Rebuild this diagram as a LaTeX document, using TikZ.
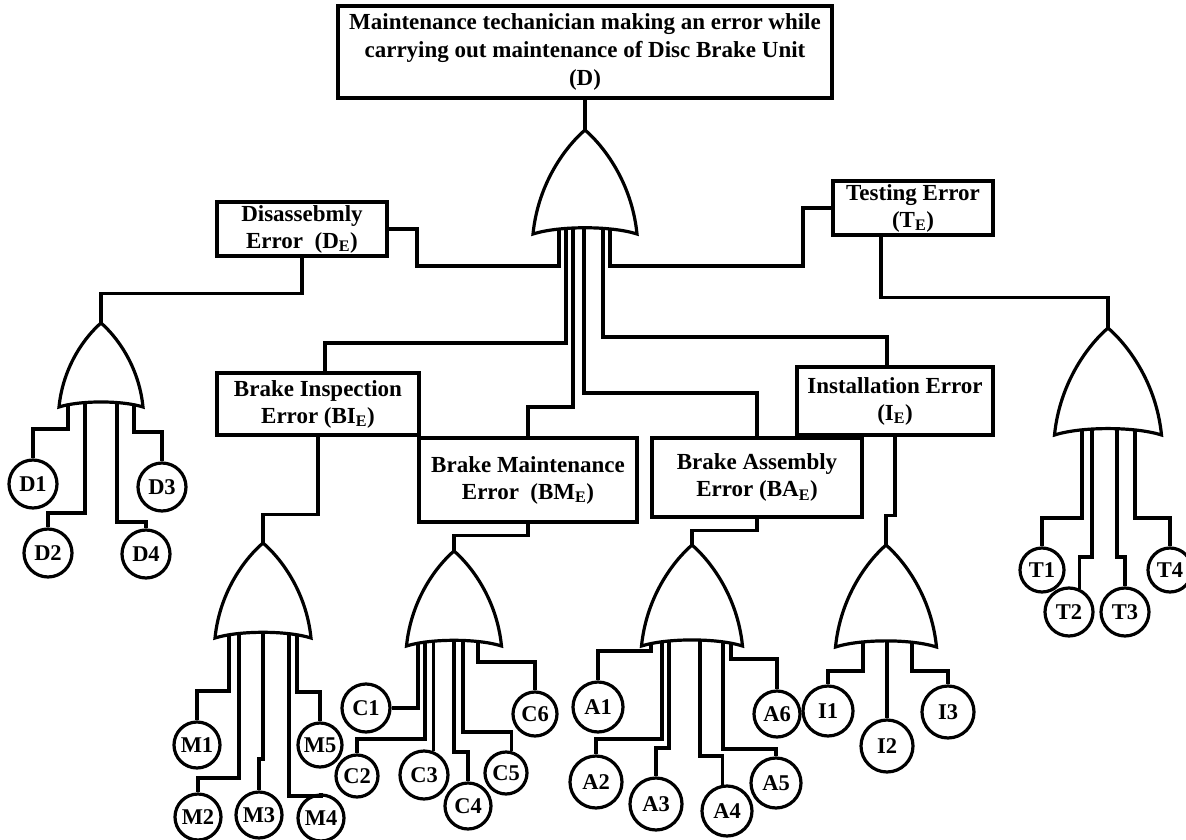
\documentclass[tikz,border=0pt]{standalone}
\usepackage{fontspec}
\setmainfont{Liberation Serif}
\usetikzlibrary{calc}
\newcommand\orgatedraw[4]{% apex x, apex y, width, height
  \draw[gate] ({#1-#3/2},{#2+#4}) .. controls ({#1-0.45*#3},{#2+0.5*#4}) and ({#1-0.175*#3},{#2+0.15*#4}) .. (#1,#2)
    .. controls ({#1+0.175*#3},{#2+0.15*#4}) and ({#1+0.45*#3},{#2+0.5*#4}) .. ({#1+#3/2},{#2+#4})
    .. controls ({#1+0.25*#3},{#2+0.92*#4}) and ({#1-0.25*#3},{#2+0.92*#4}) .. ({#1-#3/2},{#2+#4}) -- cycle;
}
\begin{document}
\begin{tikzpicture}[x=1pt,y=-1pt,
  wire/.style={line width=3.2pt, line join=miter},
  box/.style={draw, line width=3.2pt, inner sep=0pt, align=center, font=\fontsize{23}{27}\selectfont\bfseries},
  ev/.style={draw, circle, line width=3.2pt, inner sep=0pt, minimum size={2*#1}, font=\fontsize{22.5}{24}\selectfont\bfseries},
  ev/.default=24,
  gate/.style={draw, fill=white, line width=3.2pt, line join=miter}]
\useasboundingbox (0,0) rectangle (1186,840);

% gate apex coordinates
\coordinate (g0) at (585,130);
\coordinate (gD) at (101,323);
\coordinate (gBI) at (263,543);
\coordinate (gBM) at (454,551);
\coordinate (gBA) at (692,545);
\coordinate (gIE) at (886,545);
\coordinate (gTE) at (1108,328);

% boxes
\node[box, minimum width=494, minimum height=92, font=\fontsize{23}{28}\selectfont\bfseries] (top) at (585,52)
  {Maintenance techanician making an error while\\carrying out maintenance of Disc Brake Unit\\(D)};
\node[box, minimum width=170, minimum height=54] (DE) at (302,229) {Disassebmly\\Error\ \ (D\textsubscript{E})};
\node[box, minimum width=160, minimum height=54] (TE) at (913,208) {Testing Error\\(T\textsubscript{E})};
\node[box, minimum width=202, minimum height=62] (BI) at (318,404) {Brake Inspection\\Error (BI\textsubscript{E})};
\node[box, minimum width=218, minimum height=84] (BM) at (528,480) {Brake Maintenance\\Error\ \ (BM\textsubscript{E})};
\node[box, minimum width=210, minimum height=79] (BA) at (757,477.5) {Brake Assembly\\Error (BA\textsubscript{E})};
\node[box, minimum width=196, minimum height=68] (IE) at (895,401) {Installation Error\\(I\textsubscript{E})};

% basic events
\node[ev=24] (D1) at (33,484) {D1};
\node[ev=24] (D2) at (48,553) {D2};
\node[ev=24] (D3) at (162,487) {D3};
\node[ev=24] (D4) at (146,554) {D4};

\node[ev=23] (M1) at (197,745) {M1};
\node[ev=23] (M2) at (198,817) {M2};
\node[ev=23] (M3) at (259,815) {M3};
\node[ev=23] (M4) at (321,818) {M4};
\node[ev=22] (M5) at (320,745) {M5};

\node[ev=24] (C1) at (366,708) {C1};
\node[ev=21] (C2) at (357,776) {C2};
\node[ev=24] (C3) at (424,775) {C3};
\node[ev=23] (C4) at (468,806) {C4};
\node[ev=21] (C5) at (506,773) {C5};
\node[ev=22] (C6) at (535,714) {C6};

\node[ev=25] (A1) at (598,707) {A1};
\node[ev=26] (A2) at (596,782) {A2};
\node[ev=26] (A3) at (656,804) {A3};
\node[ev=25] (A4) at (727,811) {A4};
\node[ev=25] (A5) at (776,783) {A5};
\node[ev=23] (A6) at (777,714) {A6};

\node[ev=25] (I1) at (828,711) {I1};
\node[ev=26] (I2) at (887,746) {I2};
\node[ev=26] (I3) at (948,712) {I3};

\node[ev=22] (T1) at (1042,570) {T1};
\node[ev=24] (T2) at (1069,612) {T2};
\node[ev=24] (T3) at (1125,612) {T3};
\node[ev=22] (T4) at (1170,570) {T4};

% connectors: top gate
\draw[wire] (top.south) -- (g0);
\draw[wire] (DE.east) -| (417,266) -| (559,215);
\draw[wire] ($(BI.north)+(7,0)$) |- (566,343) -- (566,215);
\draw[wire] (BM.north) |- (573,407) -- (573,215);
\draw[wire] (BA.north) |- (584,393) -- (584,215);
\draw[wire] ($(IE.north)+(-8,0)$) |- (603,337) -- (603,215);
\draw[wire] (TE.west) -| (803,266) -| (610,215);

% boxes to gates
\draw[wire] (DE.south) -- ++(0,36) -| (gD);
\draw[wire] (BI.south) -- ++(0,78) -| (gBI);
\draw[wire] (BM.south) -- ++(0,12) -| (gBM);
\draw[wire] (BA.south) -- ++(0,12) -| (gBA);
\draw[wire] (IE.south) -- ++(0,79) -| (gIE);
\draw[wire] ($(TE.south)+(-32,0)$) -- ++(0,61) -| (gTE);

% gate D inputs
\draw[wire] (68,395) -- (68,429) -| (D1.north);
\draw[wire] (85,395) -- (85,513) -| (D2.north);
\draw[wire] (117,395) -- (117,522) -| (D4.north);
\draw[wire] (134,395) -- (134,432) -| (D3.north);

% gate BI inputs
\draw[wire] (229,625) -- (229,691) -| (M1.north);
\draw[wire] (239,625) -- (239,778) -| (M2.north);
\draw[wire] (263,625) -- (263,759) -| (M3.north);
\draw[wire] (289,625) -- (289,796) -| (M4.north);
\draw[wire] (297,625) -- (297,692) -| (M5.north);

% gate BM inputs
\draw[wire] (418,632) |- (C1.east);
\draw[wire] (425,632) -- (425,739) -| (C2.north);
\draw[wire] (C3.68) -- ++(0,-120);
\draw[wire] (454,632) -- (454,752) -| (C4.north);
\draw[wire] (463,632) -- (463,732) -| (C5.76);
\draw[wire] (478,632) -- (478,662) -| (C6.north);

% gate BA inputs
\draw[wire] (651,632) -- (651,651) -| (A1.north);
\draw[wire] (662,632) -- (662,739) -| (A2.north);
\draw[wire] (669,632) -- (669,748) -| (A3.north);
\draw[wire] (700,632) -- (700,756) -| (A4.99);
\draw[wire] (723,632) -- (723,749) -| (A5.north);
\draw[wire] (731,632) -- (731,659) -| (A6.north);

% gate IE inputs
\draw[wire] (863,632) -- (863,671) -| (I1.north);
\draw[wire] (887,632) -- (I2.north);
\draw[wire] (912,632) -- (912,671) -| (I3.north);

% gate TE inputs
\draw[wire] (1082,420) -- (1082,518) -| (T1.north);
\draw[wire] (1092,420) -- (1092,557) -| (T2.65);
\draw[wire] (1117,420) -- (1117,557) -| (T3.north);
\draw[wire] (1135,420) -- (1135,518) -| (T4.north);

% OR gates
\orgatedraw{585}{130}{104}{104}
\orgatedraw{101}{323}{84}{84}
\orgatedraw{263}{543}{96}{95}
\orgatedraw{454}{551}{95}{95}
\orgatedraw{692}{545}{101}{101}
\orgatedraw{886}{545}{101}{102}
\orgatedraw{1108}{328}{107}{107}
\end{tikzpicture}
\end{document}
